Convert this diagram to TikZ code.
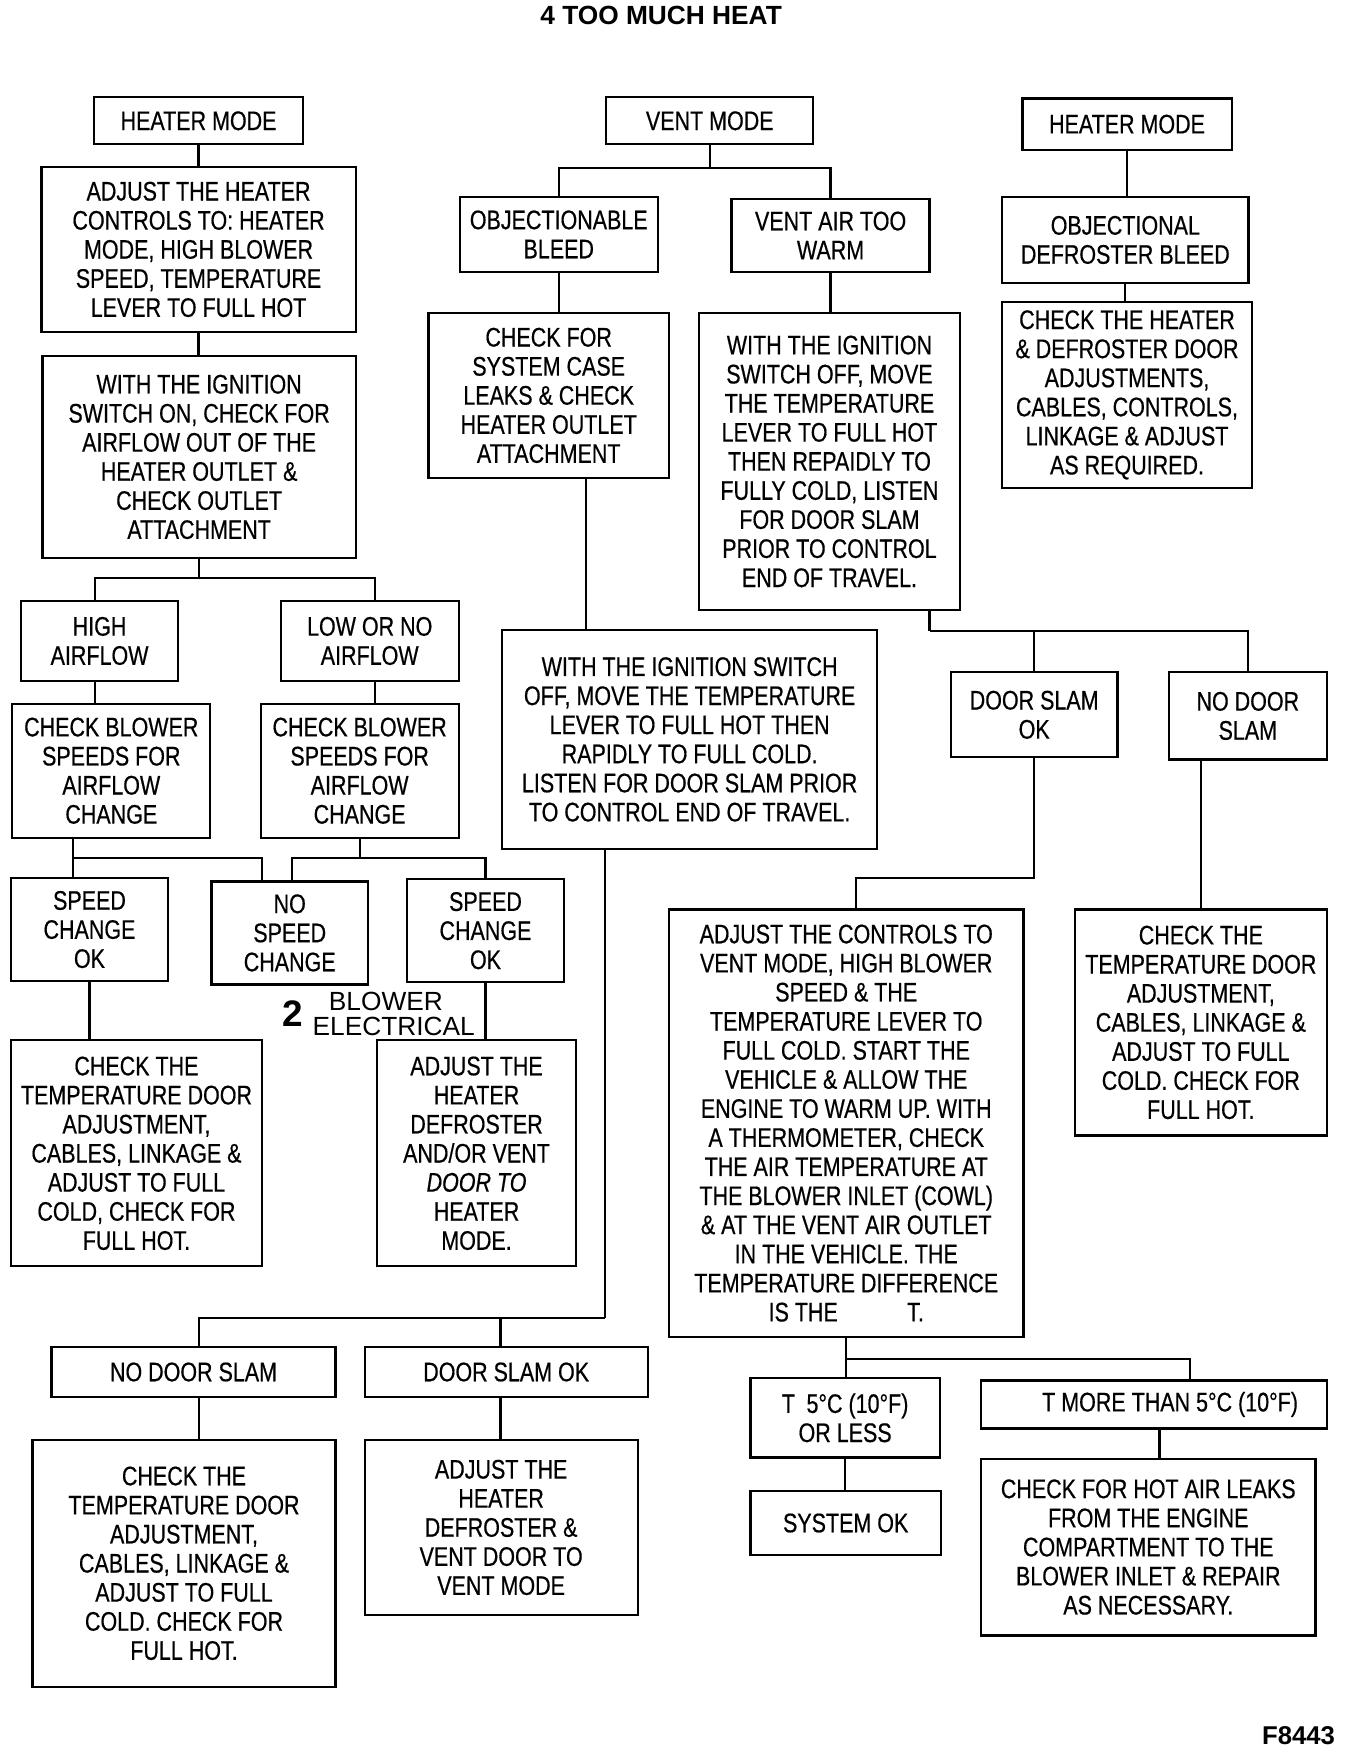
\documentclass[tikz,border=0pt]{standalone}
\usepackage{fontspec}
\setmainfont{Liberation Sans}[FakeStretch=0.8,FakeBold=0.5]
\newfontfamily\plainsans{Liberation Sans}
\usetikzlibrary{calc}
\newcommand\boxfont{\fontsize{24}{26}\selectfont}
\tikzset{
  box/.style={draw, line width=2pt, inner sep=0pt, outer sep=0pt, align=center, font=\boxfont},
  conn/.style={line width=2pt},
}
\newcommand\bx[6]{\node[box, minimum width={#4pt-#2pt}, minimum height={#5pt-#3pt}] (#1) at ({(#2+#4)/2},{(#3+#5)/2}) {#6};}
\begin{document}
\begin{tikzpicture}[x=1pt,y=-1pt]
\useasboundingbox (0,0) rectangle (1216,1568);
\node[font=\plainsans\bfseries\fontsize{23.5}{28}\selectfont] (title) at (591,14) {4 TOO MUCH HEAT};
% left column
\bx{HM1}{84}{87}{271}{129}{HEATER MODE}
\bx{ADJ1}{37}{149}{318}{297}{ADJUST THE HEATER\\CONTROLS TO: HEATER\\MODE, HIGH BLOWER\\SPEED, TEMPERATURE\\LEVER TO FULL HOT}
\bx{IGN1}{38}{318}{318}{499}{WITH THE IGNITION\\SWITCH ON, CHECK FOR\\AIRFLOW OUT OF THE\\HEATER OUTLET \&\\CHECK OUTLET\\ATTACHMENT}
\bx{HIGH}{19}{537}{159}{609}{HIGH\\AIRFLOW}
\bx{LOW}{251}{537}{410}{609}{LOW OR NO\\AIRFLOW}
\bx{CBS1}{11}{629}{188}{749}{CHECK BLOWER\\SPEEDS FOR\\AIRFLOW\\CHANGE}
\bx{CBS2}{233}{629}{410}{749}{CHECK BLOWER\\SPEEDS FOR\\AIRFLOW\\CHANGE}
\bx{SCO1}{10}{785}{150}{877}{SPEED\\CHANGE\\OK}
\bx{NSC}{189}{788}{329}{880}{NO\\SPEED\\CHANGE}
\bx{SCO2}{364}{786}{504}{878}{SPEED\\CHANGE\\OK}
\bx{CTD1}{10}{930}{234}{1132}{CHECK THE\\TEMPERATURE DOOR\\ADJUSTMENT,\\CABLES, LINKAGE \&\\ADJUST TO FULL\\COLD, CHECK FOR\\FULL HOT.}
\bx{ADH}{337}{930}{515}{1132}{ADJUST THE\\HEATER\\DEFROSTER\\AND/OR VENT\\\textit{DOOR TO}\\HEATER\\MODE.}
\node[font=\plainsans\bfseries\fontsize{33}{33}\selectfont] (two) at (262,906) {2};
\node[font=\plainsans\fontsize{23.5}{23.5}\selectfont] (blower) at (345,895) {BLOWER};
\node[font=\plainsans\fontsize{23.5}{23.5}\selectfont] (elec) at (352,918) {ELECTRICAL};
% middle
\bx{VM}{542}{87}{727}{129}{VENT MODE}
\bx{OB}{411}{176}{588}{243}{OBJECTIONABLE\\BLEED}
\bx{VAW}{654}{178}{831}{243}{VENT AIR TOO\\WARM}
\bx{CFS}{383}{280}{598}{427}{CHECK FOR\\SYSTEM CASE\\LEAKS \& CHECK\\HEATER OUTLET\\ATTACHMENT}
\bx{WIS1}{625}{280}{858}{545}{WITH THE IGNITION\\SWITCH OFF, MOVE\\THE TEMPERATURE\\LEVER TO FULL HOT\\THEN REPAIDLY TO\\FULLY COLD, LISTEN\\FOR DOOR SLAM\\PRIOR TO CONTROL\\END OF TRAVEL.}
\bx{WIS2}{449}{563}{784}{759}{WITH THE IGNITION SWITCH\\OFF, MOVE THE TEMPERATURE\\LEVER TO FULL HOT THEN\\RAPIDLY TO FULL COLD.\\LISTEN FOR DOOR SLAM PRIOR\\TO CONTROL END OF TRAVEL.}
\bx{DSO2}{850}{601}{999}{677}{DOOR SLAM\\OK}
\bx{NDS2}{1045}{601}{1186}{679}{NO DOOR\\SLAM}
\bx{ACV}{598}{813}{915}{1195}{ADJUST THE CONTROLS TO\\VENT MODE, HIGH BLOWER\\SPEED \& THE\\TEMPERATURE LEVER TO\\FULL COLD. START THE\\VEHICLE \& ALLOW THE\\ENGINE TO WARM UP. WITH\\A THERMOMETER, CHECK\\THE AIR TEMPERATURE AT\\THE BLOWER INLET (COWL)\\\& AT THE VENT AIR OUTLET\\IN THE VEHICLE. THE\\TEMPERATURE DIFFERENCE\\IS THE\hspace*{62pt}T.}
\bx{CTD3}{961}{813}{1186}{1015}{CHECK THE\\TEMPERATURE DOOR\\ADJUSTMENT,\\CABLES, LINKAGE \&\\ADJUST TO FULL\\COLD. CHECK FOR\\FULL HOT.}
\bx{T5}{671}{1232}{840}{1303}{T\hspace{5pt} 5°C (10°F)\\OR LESS}
\bx{SOK}{671}{1333}{841}{1390}{SYSTEM OK}
\bx{TM}{877}{1234}{1186}{1277}{\hspace*{29pt}T MORE THAN 5°C (10°F)}
\bx{CHA}{877}{1304}{1176}{1462}{CHECK FOR HOT AIR LEAKS\\FROM THE ENGINE\\COMPARTMENT TO THE\\BLOWER INLET \& REPAIR\\AS NECESSARY.}
\bx{NDS1}{46}{1204}{300}{1249}{NO DOOR SLAM}
\bx{DSO1}{326}{1204}{579}{1249}{DOOR SLAM OK}
\bx{CTD2}{29}{1287}{300}{1508}{CHECK THE\\TEMPERATURE DOOR\\ADJUSTMENT,\\CABLES, LINKAGE \&\\ADJUST TO FULL\\COLD. CHECK FOR\\FULL HOT.}
\bx{ADV}{326}{1287}{570}{1444}{ADJUST THE\\HEATER\\DEFROSTER \&\\VENT DOOR TO\\VENT MODE}
% right column
\bx{HM2}{914}{88}{1101}{134}{HEATER MODE}
\bx{ODB}{896}{176}{1116}{253}{OBJECTIONAL\\DEFROSTER BLEED}
\bx{CHD}{896}{270}{1119}{436}{CHECK THE HEATER\\\& DEFROSTER DOOR\\ADJUSTMENTS,\\CABLES, CONTROLS,\\LINKAGE \& ADJUST\\AS REQUIRED.}
\node[font=\plainsans\bfseries\fontsize{23}{23}\selectfont, anchor=east] (fig) at (1197,1552) {F8443};
% connectors left
\draw[conn] (HM1.south) -- (HM1.south |- ADJ1.north);
\draw[conn] (ADJ1.south) -- (ADJ1.south |- IGN1.north);
\draw[conn] (IGN1.south) -- ++(0,18) coordinate (j1);
\draw[conn] ($(HIGH.north)+(-4,0)$) |- (j1) -| ($(LOW.north)+(5,0)$);
\draw[conn] ($(HIGH.south)+(-4,0)$) coordinate (h1) -- (h1 |- CBS1.north);
\draw[conn] ($(LOW.south)+(5,0)$) coordinate (h2) -- (h2 |- CBS2.north);
\draw[conn] ($(CBS1.south)+(-34.5,0)$) -- ++(0,18) coordinate (j3);
\draw[conn] (j3) -- (j3 |- SCO1.north);
\draw[conn] (j3) -| ($(NSC.north)+(-25,0)$);
\draw[conn] (CBS2.south) -- ++(0,18) coordinate (j4);
\draw[conn] ($(NSC.north)+(2,0)$) |- (j4) -| (SCO2.north);
\draw[conn] (SCO1.south) -- (SCO1.south |- CTD1.north);
\draw[conn] (SCO2.south) -- (SCO2.south |- ADH.north);
% connectors middle
\draw[conn] (VM.south) -- ++(0,21) coordinate (j5);
\draw[conn] (OB.north) |- (j5) -| (VAW.north);
\draw[conn] (OB.south) -- (OB.south |- CFS.north);
\draw[conn] ($(CFS.south)+(33.5,0)$) coordinate (p2) -- (p2 |- WIS2.north);
\draw[conn] (VAW.south) -- (VAW.south |- WIS1.north);
\draw[conn] ($(WIS1.south)+(89.5,0)$) -- ++(0,19) coordinate (j6);
\draw[conn] (j6) -| (NDS2.north);
\draw[conn] (DSO2.north) -- (DSO2.north |- j6);
\draw[conn] (DSO2.south) -- ++(0,108) coordinate (j7) -| ($(ACV.north)+(8.5,0)$);
\draw[conn] (CTD3.north) -- (CTD3.north |- NDS2.south);
\draw[conn] (ACV.south) -- ++(0,20) coordinate (j8);
\draw[conn] (j8) -- (j8 |- T5.north);
\draw[conn] (j8) -| ($(TM.north)+(32.5,0)$);
\draw[conn] (T5.south) -- (T5.south |- SOK.north);
\draw[conn] ($(TM.south)+(5,0)$) coordinate (p4) -- (p4 |- CHA.north);
\draw[conn] ($(WIS2.south)+(-75.5,0)$) -- ++(0,419) coordinate (j9);
\draw[conn] (j9) -| ($(NDS1.north)+(5,0)$);
\draw[conn] ($(DSO1.north)+(-5,0)$) coordinate (p5) -- (p5 |- j9);
\draw[conn] ($(NDS1.south)+(5,0)$) coordinate (p6) -- (p6 |- CTD2.north);
\draw[conn] ($(DSO1.south)+(-5,0)$) coordinate (p7) -- (p7 |- ADV.north);
% connectors right
\draw[conn] (HM2.south) -- (HM2.south |- ODB.north);
\draw[conn] (ODB.south) -- (ODB.south |- CHD.north);
\end{tikzpicture}
\end{document}
